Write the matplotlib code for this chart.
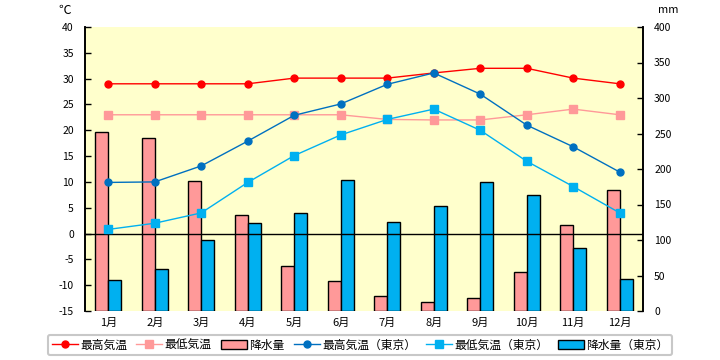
import matplotlib
matplotlib.use("Agg")
import matplotlib.pyplot as plt
import numpy as np

plt.rcParams['font.family'] = ['Noto Sans CJK JP', 'DejaVu Sans']
plt.rcParams['axes.unicode_minus'] = False

months = ["1月", "2月", "3月", "4月", "5月", "6月", "7月", "8月", "9月", "10月", "11月", "12月"]
tmax = [29, 29, 29, 29, 30.1, 30.1, 30.1, 31.1, 32, 32, 30.1, 29]
tmin = [23, 23, 23, 23, 23, 23, 22.1, 22, 22, 23, 24.1, 23]
rain = [252, 243, 183, 135, 64, 42, 21, 12, 18, 55, 121, 170]
tmax_tokyo = [9.9, 10, 13.1, 17.9, 22.9, 25.1, 28.9, 31.1, 27, 21, 16.8, 11.9]
tmin_tokyo = [0.8, 2, 4, 9.9, 15.1, 19.1, 22.1, 24.1, 20, 14, 9.1, 4]
rain_tokyo = [44, 59, 100, 124, 138, 184, 126, 148, 181, 164, 89, 45]

x = np.arange(1, 13)
bw = 0.28

fig = plt.figure(figsize=(7.2, 3.6), dpi=100)
ax = fig.add_axes([85/720, 1-311/360, (643-85)/720, (311-27)/360])
ax2 = ax.twinx()
ax.set_zorder(ax2.get_zorder() + 1)
ax.patch.set_visible(False)
ax2.patch.set_facecolor('#FFFFCC')
ax2.patch.set_visible(True)

# bars on the right (mm) axis
b1 = ax2.bar(x - bw/2, rain, width=bw, color='#FF9999', edgecolor='black', linewidth=1, label='降水量')
b2 = ax2.bar(x + bw/2, rain_tokyo, width=bw, color='#00B0F0', edgecolor='black', linewidth=1, label='降水量（東京）')

# temperature lines on the left axis
ax.axhline(0, color='black', linewidth=1, zorder=1)
l1, = ax.plot(x, tmax, color='#FF0000', marker='o', markersize=5, linewidth=1, label='最高気温')
l2, = ax.plot(x, tmin, color='#FF9999', marker='s', markersize=5.5, linewidth=1, label='最低気温')
l3, = ax.plot(x, tmax_tokyo, color='#0070C0', marker='o', markersize=5, linewidth=1, label='最高気温（東京）')
l4, = ax.plot(x, tmin_tokyo, color='#00B0F0', marker='s', markersize=5.5, linewidth=1, label='最低気温（東京）')

ax.set_xlim(0.5, 12.5)
ax.set_ylim(-15, 40)
ax.set_yticks(range(-15, 41, 5))
ax2.set_ylim(0, 400)
ax2.set_yticks(range(0, 401, 50))
ax.set_xticks(x)
ax.set_xticklabels(months)

for a in (ax, ax2):
    a.spines['top'].set_visible(False)
    a.spines['bottom'].set_visible(False)
    a.spines['left'].set_linewidth(1.2)
    a.spines['right'].set_linewidth(1.2)
    a.tick_params(axis='y', direction='in', length=4, width=1, labelsize=7.5)
    a.tick_params(axis='x', length=0, labelsize=8, pad=5)
ax.tick_params(axis='y', pad=8)
ax2.tick_params(axis='y', pad=8)

fig.text(65/720, 1-10/360, '℃', fontsize=9, ha='center', va='center')
fig.text(668/720, 1-10/360, 'mm', fontsize=8, ha='center', va='center')

handles = [l1, l2, b1, l3, l4, b2]
leg = fig.legend(handles=handles, labels=[h.get_label() for h in handles],
                 loc='center', bbox_to_anchor=(0.5, 1-345/360), ncol=6,
                 fontsize=8.5, frameon=True, fancybox=True, handlelength=2.2,
                 columnspacing=0.8, handletextpad=0.2, borderpad=0.3)
leg.get_frame().set_edgecolor('#BBBBBB')
leg.get_frame().set_linewidth(1.5)

fig.savefig('out.png', dpi=100)
